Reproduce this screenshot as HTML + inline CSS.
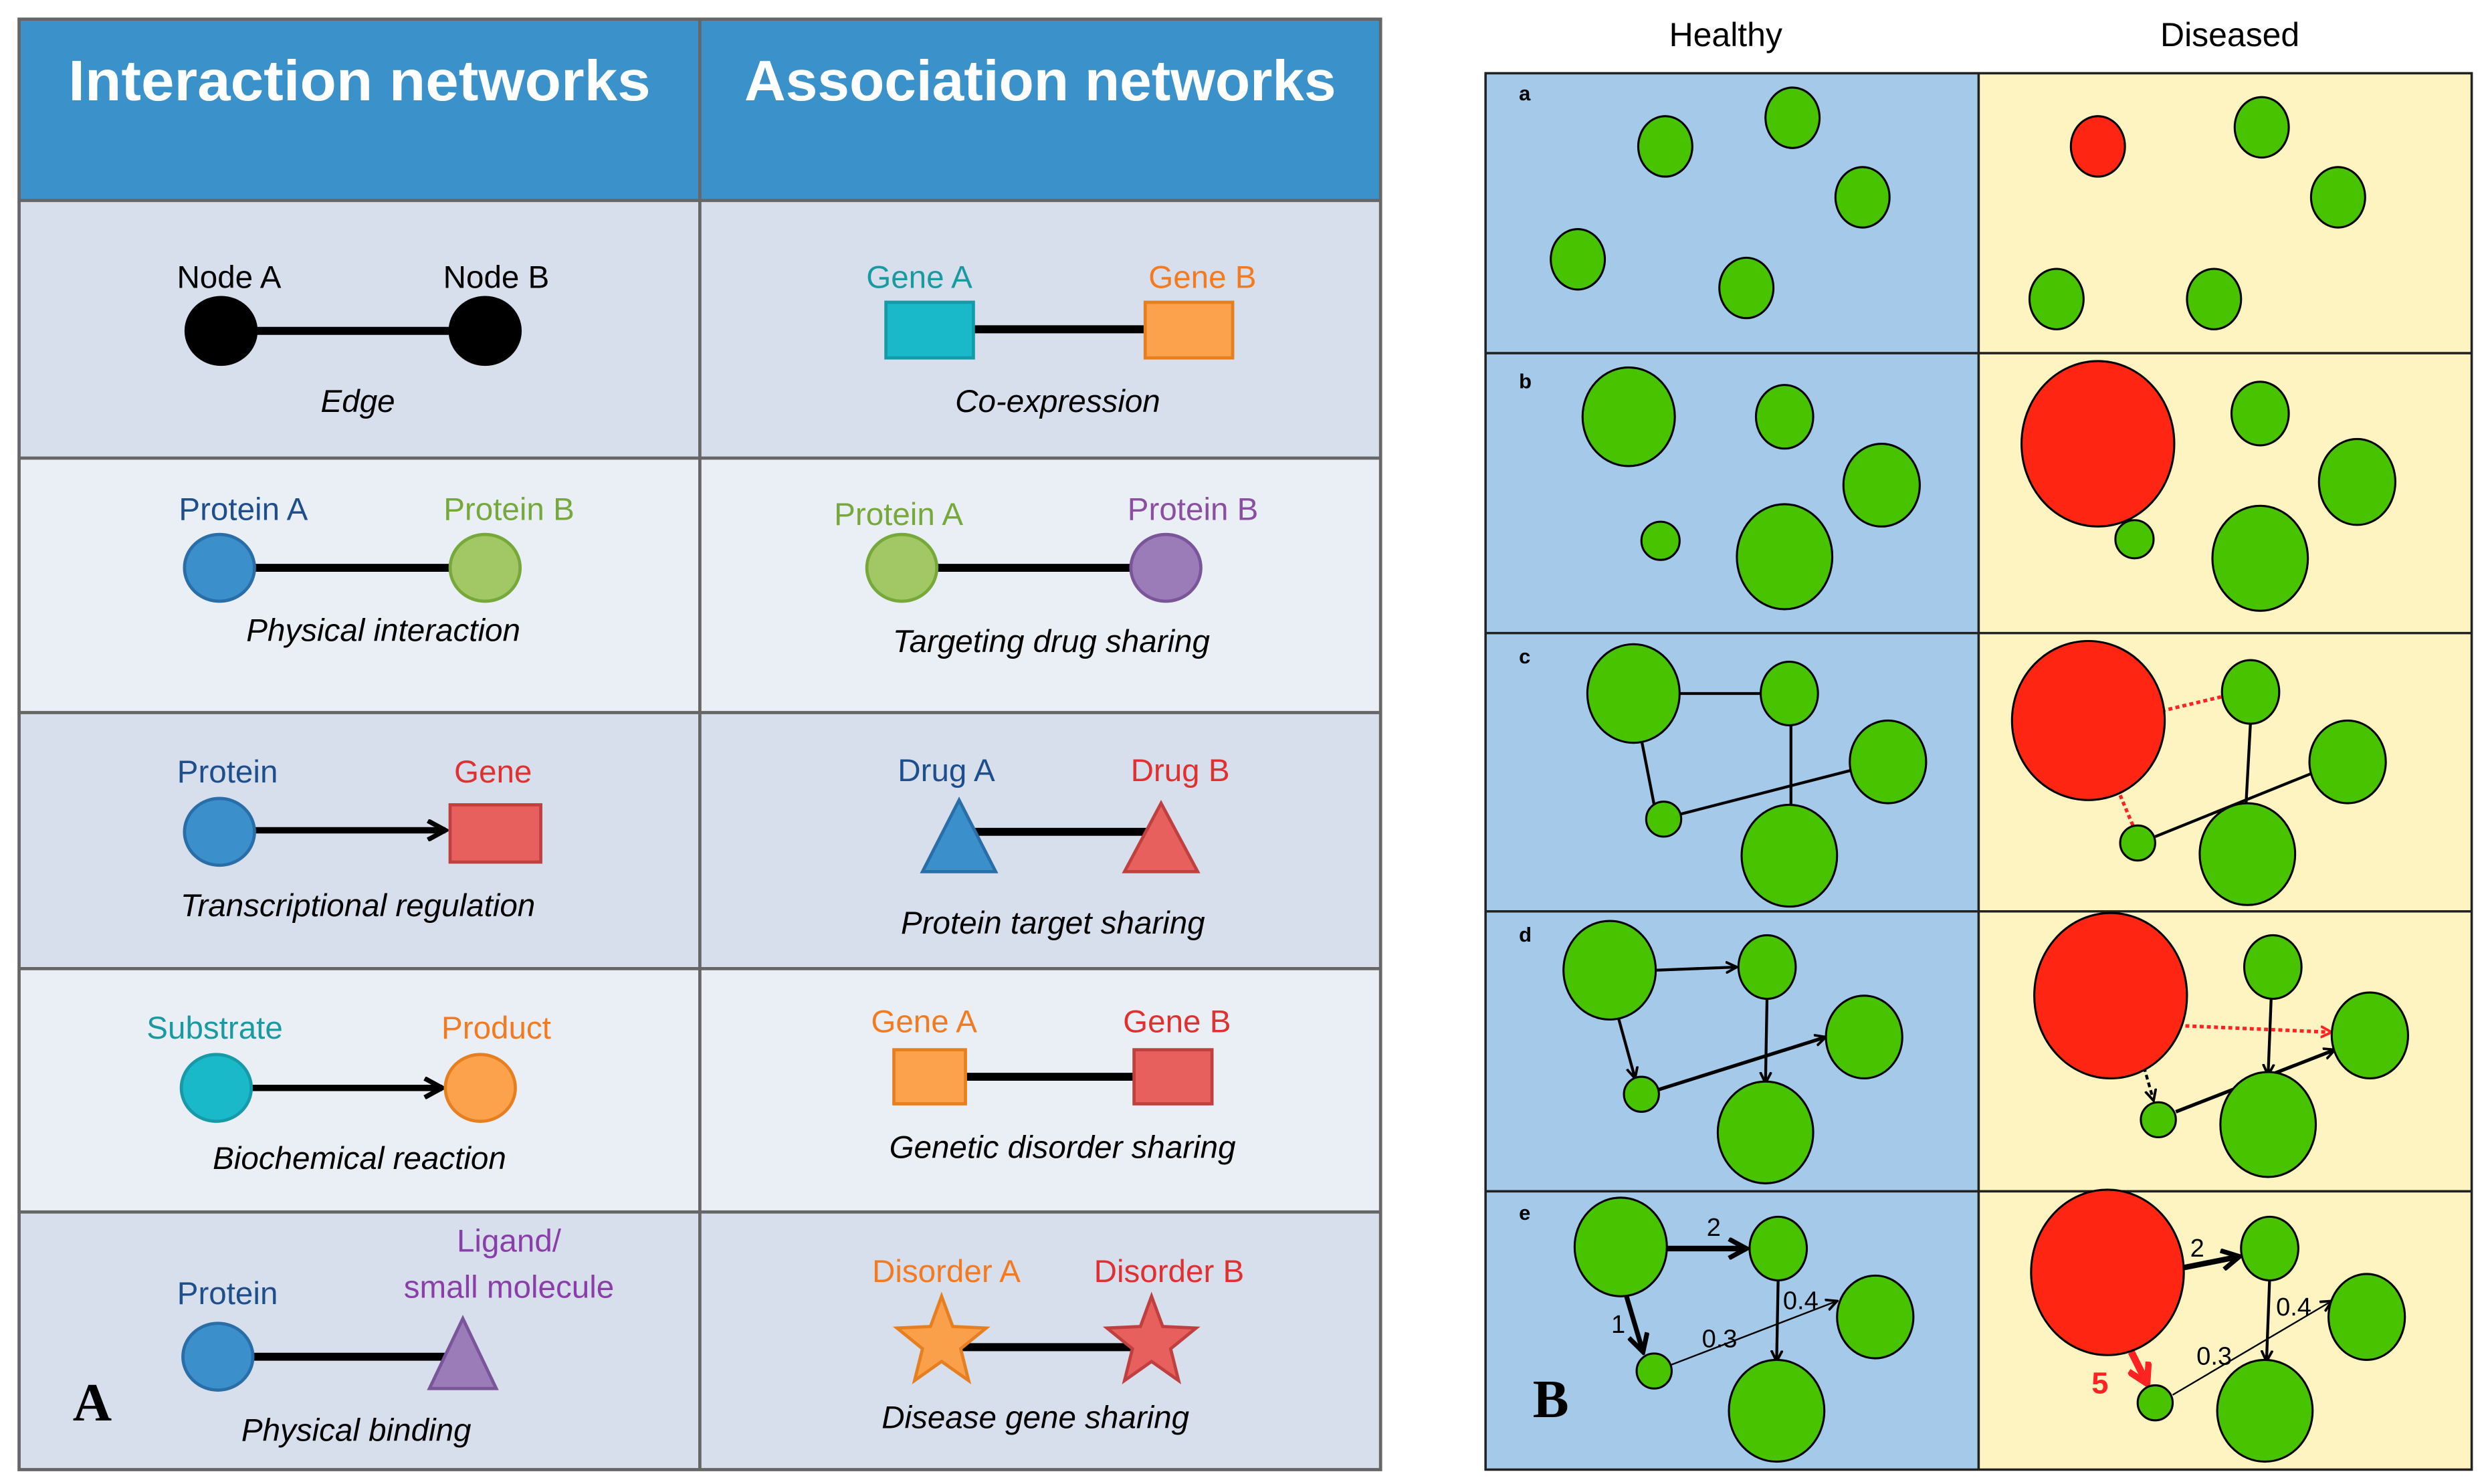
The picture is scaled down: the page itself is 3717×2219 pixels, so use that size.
<!DOCTYPE html>
<html><head><meta charset="utf-8"><style>html,body{margin:0;padding:0;background:#fff}svg{display:block}</style></head>
<body>
<svg width="3717" height="2219" viewBox="0 0 1563 933" xmlns="http://www.w3.org/2000/svg" font-family="Liberation Sans, sans-serif">
<defs>
<marker id="ab" markerWidth="8" markerHeight="8" refX="7" refY="4" orient="auto" markerUnits="userSpaceOnUse"><path d="M0,0.5 L7,4 L0,7.5" fill="none" stroke="#000" stroke-width="1.6"/></marker>
<marker id="abig" markerWidth="14" markerHeight="14" refX="12" refY="7" orient="auto" markerUnits="userSpaceOnUse"><path d="M1,1 L12,7 L1,13" fill="none" stroke="#000" stroke-width="3"/></marker>
<marker id="ar" markerWidth="8" markerHeight="8" refX="7" refY="4" orient="auto" markerUnits="userSpaceOnUse"><path d="M0,0.5 L7,4 L0,7.5" fill="none" stroke="#f22" stroke-width="1.6"/></marker>
<marker id="arbig" markerWidth="16" markerHeight="16" refX="13" refY="8" orient="auto" markerUnits="userSpaceOnUse"><path d="M1,1 L13,8 L1,15" fill="none" stroke="#f22" stroke-width="4"/></marker>
</defs>
<rect width="1563" height="933" fill="#fff"/>
<rect x="12" y="12" width="856" height="114" fill="#3b92cb"/>
<rect x="12" y="126" width="856" height="162" fill="#d6dfeb"/>
<rect x="12" y="288" width="856" height="160" fill="#eaeff6"/>
<rect x="12" y="448" width="856" height="161" fill="#d6dfeb"/>
<rect x="12" y="609" width="856" height="153" fill="#eaeff6"/>
<rect x="12" y="762" width="856" height="162" fill="#d6dfeb"/>
<g stroke="#666" stroke-width="2" fill="none">
<rect x="12" y="12" width="856" height="912"/>
<line x1="440" y1="12" x2="440" y2="924"/>
<line x1="12" y1="126" x2="868" y2="126"/>
<line x1="12" y1="288" x2="868" y2="288"/>
<line x1="12" y1="448" x2="868" y2="448"/>
<line x1="12" y1="609" x2="868" y2="609"/>
<line x1="12" y1="762" x2="868" y2="762"/>
</g>
<text x="226" y="63" fill="#fff" font-weight="bold" font-size="36" text-anchor="middle" textLength="366" lengthAdjust="spacingAndGlyphs">Interaction networks</text>
<text x="654" y="63" fill="#fff" font-weight="bold" font-size="36" text-anchor="middle" textLength="372" lengthAdjust="spacingAndGlyphs">Association networks</text>
<g font-size="20" text-anchor="middle">
<text x="144" y="181">Node A</text><text x="312" y="181">Node B</text>
<line x1="139" y1="208" x2="305" y2="208" stroke="#000" stroke-width="5"/>
<ellipse cx="139" cy="208" rx="23" ry="22"/><ellipse cx="305" cy="208" rx="23" ry="22"/>
<text x="225" y="259" font-style="italic">Edge</text>
<text x="578" y="181" fill="#1a9aa0">Gene A</text><text x="756" y="181" fill="#f47a20">Gene B</text>
<line x1="610" y1="207" x2="722" y2="207" stroke="#000" stroke-width="5"/>
<rect x="557" y="190" width="55" height="35" fill="#19b9c9" stroke="#169aa8" stroke-width="2"/>
<rect x="720" y="190" width="55" height="35" fill="#fca24c" stroke="#e67f20" stroke-width="2"/>
<text x="665" y="259" font-style="italic">Co-expression</text>
<text x="153" y="327" fill="#1f4e8c">Protein A</text><text x="320" y="327" fill="#76a83a">Protein B</text>
<line x1="138" y1="357" x2="305" y2="357" stroke="#000" stroke-width="5"/>
<ellipse cx="138" cy="357" rx="22" ry="21" fill="#3b8fcb" stroke="#2a6ea8" stroke-width="2"/>
<ellipse cx="305" cy="357" rx="22" ry="21" fill="#a2c866" stroke="#76a83a" stroke-width="2"/>
<text x="241" y="403" font-style="italic">Physical interaction</text>
<text x="565" y="330" fill="#76a83a">Protein A</text><text x="750" y="327" fill="#8a4fa0">Protein B</text>
<line x1="567" y1="357" x2="733" y2="357" stroke="#000" stroke-width="5"/>
<ellipse cx="567" cy="357" rx="22" ry="21" fill="#a2c866" stroke="#76a83a" stroke-width="2"/>
<ellipse cx="733" cy="357" rx="22" ry="21" fill="#9b7bb8" stroke="#7a559a" stroke-width="2"/>
<text x="661" y="410" font-style="italic">Targeting drug sharing</text>
<text x="143" y="492" fill="#1f4e8c">Protein</text><text x="310" y="492" fill="#e03030">Gene</text>
<line x1="150" y1="522" x2="280" y2="522" stroke="#000" stroke-width="4" marker-end="url(#abig)"/>
<ellipse cx="138" cy="523" rx="22" ry="21" fill="#3b8fcb" stroke="#2a6ea8" stroke-width="2"/>
<rect x="283" y="506" width="57" height="36" fill="#e8605e" stroke="#c04040" stroke-width="2"/>
<text x="225" y="576" font-style="italic">Transcriptional regulation</text>
<text x="595" y="491" fill="#1f4e8c">Drug A</text><text x="742" y="491" fill="#e03030">Drug B</text>
<line x1="603" y1="523" x2="730" y2="523" stroke="#000" stroke-width="5"/>
<polygon points="603,503 626,548 580,548" fill="#3b8fcb" stroke="#2a6ea8" stroke-width="2"/>
<polygon points="730,505 753,548 707,548" fill="#e8605e" stroke="#c04040" stroke-width="2"/>
<text x="662" y="587" font-style="italic">Protein target sharing</text>
<text x="135" y="653" fill="#1a9aa0">Substrate</text><text x="312" y="653" fill="#f47a20">Product</text>
<line x1="148" y1="684" x2="278" y2="684" stroke="#000" stroke-width="4" marker-end="url(#abig)"/>
<ellipse cx="136" cy="684" rx="22" ry="21" fill="#19b9c9" stroke="#169aa8" stroke-width="2"/>
<ellipse cx="302" cy="684" rx="22" ry="21" fill="#fca24c" stroke="#e67f20" stroke-width="2"/>
<text x="226" y="735" font-style="italic">Biochemical reaction</text>
<text x="581" y="649" fill="#f47a20">Gene A</text><text x="740" y="649" fill="#e03030">Gene B</text>
<line x1="605" y1="677" x2="715" y2="677" stroke="#000" stroke-width="5"/>
<rect x="562" y="660" width="45" height="34" fill="#fca24c" stroke="#e67f20" stroke-width="2"/>
<rect x="713" y="660" width="49" height="34" fill="#e8605e" stroke="#c04040" stroke-width="2"/>
<text x="668" y="728" font-style="italic">Genetic disorder sharing</text>
<text x="143" y="820" fill="#1f4e8c">Protein</text>
<text x="320" y="787" fill="#8a3fa8">Ligand/</text><text x="320" y="816" fill="#8a3fa8">small molecule</text>
<line x1="137" y1="853" x2="290" y2="853" stroke="#000" stroke-width="5"/>
<ellipse cx="137" cy="853" rx="22" ry="21" fill="#3b8fcb" stroke="#2a6ea8" stroke-width="2"/>
<polygon points="291,829 312,873 270,873" fill="#9b7bb8" stroke="#7a559a" stroke-width="2"/>
<text x="224" y="906" font-style="italic">Physical binding</text>
<text x="595" y="806" fill="#f47a20">Disorder A</text><text x="735" y="806" fill="#e03030">Disorder B</text>
<line x1="604" y1="847" x2="714" y2="847" stroke="#000" stroke-width="5"/>
<polygon points="592,815 599,834 620,835 604,848 609,868 592,856 575,868 580,848 564,835 585,834" fill="#fba04a" stroke="#e67f20" stroke-width="2"/>
<polygon points="724,815 731,834 752,835 736,848 741,868 724,856 707,868 712,848 696,835 717,834" fill="#e8605e" stroke="#c04040" stroke-width="2"/>
<text x="651" y="898" font-style="italic">Disease gene sharing</text>
</g>
<text x="58" y="893" font-family="Liberation Serif, serif" font-weight="bold" font-size="34" text-anchor="middle">A</text>

<text x="1085" y="29" font-size="21" text-anchor="middle">Healthy</text>
<text x="1402" y="29" font-size="21" text-anchor="middle">Diseased</text>
<rect x="934" y="46" width="310" height="878" fill="#a5c9e9"/>
<rect x="1244" y="46" width="310" height="878" fill="#fef4c1"/>
<g stroke="#222" stroke-width="1.5" fill="none">
<rect x="934" y="46" width="620" height="878"/>
<line x1="1244" y1="46" x2="1244" y2="924"/>
<line x1="934" y1="222" x2="1554" y2="222"/>
<line x1="934" y1="398" x2="1554" y2="398"/>
<line x1="934" y1="573" x2="1554" y2="573"/>
<line x1="934" y1="749" x2="1554" y2="749"/>
</g>
<g font-size="13" font-weight="bold">
<text x="955" y="63">a</text><text x="955" y="244">b</text><text x="955" y="417">c</text><text x="955" y="592">d</text><text x="955" y="767">e</text>
</g>
<g stroke="#000" stroke-width="1.8" fill="none">
<line x1="1056" y1="436" x2="1107" y2="436"/>
<line x1="1126" y1="454" x2="1126" y2="510"/>
<line x1="1032" y1="465" x2="1040" y2="506"/>
<line x1="1056" y1="512" x2="1165" y2="484"/>
<line x1="1415" y1="453" x2="1412" y2="508"/>
<line x1="1355" y1="526" x2="1454" y2="486"/>
<line x1="1041" y1="610" x2="1092" y2="608" marker-end="url(#ab)"/>
<line x1="1111" y1="626" x2="1110" y2="681" marker-end="url(#ab)"/>
<line x1="1017" y1="638" x2="1028" y2="678" marker-end="url(#ab)"/>
<line x1="1043" y1="685" x2="1148" y2="652" stroke-width="2.2" marker-end="url(#ab)"/>
<line x1="1428" y1="626" x2="1426" y2="676" marker-end="url(#ab)"/>
<line x1="1348" y1="671" x2="1354" y2="692" stroke-dasharray="3,2" marker-end="url(#ab)"/>
<line x1="1368" y1="699" x2="1468" y2="660" stroke-width="2.2" marker-end="url(#ab)"/>
<line x1="1048" y1="785" x2="1098" y2="785" stroke-width="3.5" marker-end="url(#abig)"/>
<line x1="1022" y1="813" x2="1033" y2="850" stroke-width="3" marker-end="url(#abig)"/>
<line x1="1118" y1="803" x2="1117" y2="856" marker-end="url(#ab)"/>
<line x1="1051" y1="858" x2="1155" y2="818" stroke-width="1" marker-end="url(#ab)"/>
<line x1="1373" y1="797" x2="1408" y2="790" stroke-width="3.5" marker-end="url(#abig)"/>
<line x1="1427" y1="803" x2="1425" y2="856" marker-end="url(#ab)"/>
<line x1="1366" y1="877" x2="1466" y2="818" stroke-width="1" marker-end="url(#ab)"/>
</g>
<g stroke="#f22" stroke-width="2.2" stroke-dasharray="2.5,2" fill="none">
<line x1="1359" y1="447" x2="1397" y2="438"/>
<line x1="1333" y1="500" x2="1341" y2="519"/>
<line x1="1374" y1="645" x2="1466" y2="649" marker-end="url(#ar)"/>
</g>
<line x1="1340" y1="850" x2="1350" y2="870" stroke="#f22" stroke-width="4.5" marker-end="url(#arbig)"/>
<g stroke="#000" stroke-width="1.3" fill="#47c300">
<ellipse cx="1047" cy="92" rx="17" ry="19"/><ellipse cx="1127" cy="74" rx="17" ry="19"/><ellipse cx="1171" cy="124" rx="17" ry="19"/><ellipse cx="992" cy="163" rx="17" ry="19"/><ellipse cx="1098" cy="181" rx="17" ry="19"/>
<ellipse cx="1319" cy="92" rx="17" ry="19" fill="#fe2513"/><ellipse cx="1422" cy="80" rx="17" ry="19"/><ellipse cx="1470" cy="124" rx="17" ry="19"/><ellipse cx="1293" cy="188" rx="17" ry="19"/><ellipse cx="1392" cy="188" rx="17" ry="19"/>
<ellipse cx="1024" cy="262" rx="29" ry="31"/><ellipse cx="1122" cy="262" rx="18" ry="20"/><ellipse cx="1183" cy="305" rx="24" ry="26"/><ellipse cx="1044" cy="340" rx="12" ry="12"/><ellipse cx="1122" cy="350" rx="30" ry="33"/>
<ellipse cx="1319" cy="279" rx="48" ry="52" fill="#fe2513"/><ellipse cx="1421" cy="260" rx="18" ry="20"/><ellipse cx="1482" cy="303" rx="24" ry="27"/><ellipse cx="1342" cy="339" rx="12" ry="12"/><ellipse cx="1421" cy="351" rx="30" ry="33"/>
<ellipse cx="1027" cy="436" rx="29" ry="31"/><ellipse cx="1125" cy="436" rx="18" ry="20"/><ellipse cx="1187" cy="479" rx="24" ry="26"/><ellipse cx="1046" cy="515" rx="11" ry="11"/><ellipse cx="1125" cy="538" rx="30" ry="32"/>
<ellipse cx="1313" cy="453" rx="48" ry="50" fill="#fe2513"/><ellipse cx="1415" cy="435" rx="18" ry="20"/><ellipse cx="1476" cy="479" rx="24" ry="26"/><ellipse cx="1344" cy="530" rx="11" ry="11"/><ellipse cx="1413" cy="537" rx="30" ry="32"/>
<ellipse cx="1012" cy="610" rx="29" ry="31"/><ellipse cx="1111" cy="608" rx="18" ry="20"/><ellipse cx="1172" cy="652" rx="24" ry="26"/><ellipse cx="1032" cy="688" rx="11" ry="11"/><ellipse cx="1110" cy="712" rx="30" ry="32"/>
<ellipse cx="1327" cy="626" rx="48" ry="52" fill="#fe2513"/><ellipse cx="1429" cy="608" rx="18" ry="20"/><ellipse cx="1490" cy="651" rx="24" ry="27"/><ellipse cx="1357" cy="704" rx="11" ry="11"/><ellipse cx="1426" cy="707" rx="30" ry="33"/>
<ellipse cx="1019" cy="784" rx="29" ry="31"/><ellipse cx="1118" cy="785" rx="18" ry="20"/><ellipse cx="1179" cy="828" rx="24" ry="26"/><ellipse cx="1040" cy="862" rx="11" ry="11"/><ellipse cx="1117" cy="887" rx="30" ry="32"/>
<ellipse cx="1325" cy="800" rx="48" ry="52" fill="#fe2513"/><ellipse cx="1427" cy="785" rx="18" ry="20"/><ellipse cx="1488" cy="828" rx="24" ry="27"/><ellipse cx="1355" cy="882" rx="11" ry="11"/><ellipse cx="1424" cy="887" rx="30" ry="32"/>
</g>
<g font-size="16">
<text x="1073" y="777">2</text><text x="1013" y="838">1</text><text x="1121" y="823">0.4</text><text x="1070" y="847">0.3</text>
<text x="1377" y="790">2</text><text x="1431" y="827">0.4</text><text x="1381" y="858">0.3</text>
</g>
<text x="1315" y="876" font-size="19" font-weight="bold" fill="#f22">5</text>
<text x="975" y="891" font-family="Liberation Serif, serif" font-weight="bold" font-size="34" text-anchor="middle">B</text>
</svg>
</body></html>
